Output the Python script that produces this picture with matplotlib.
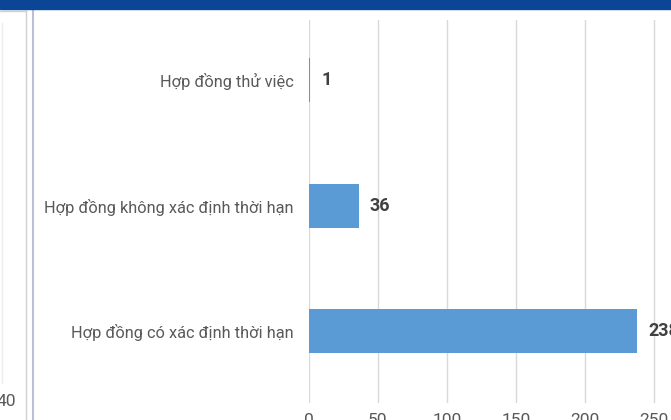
import matplotlib
matplotlib.use('Agg')
import matplotlib.pyplot as plt
import matplotlib.patches as mpatches
from matplotlib.lines import Line2D

plt.rcParams['font.family'] = ['Roboto', 'DejaVu Sans']

# ── Dữ liệu ───────────────────────────────────
categories = ['Hợp đồng có xác định thời hạn',
              'Hợp đồng không xác định thời hạn',
              'Hợp đồng thử việc']
values = [238, 36, 1]
xticks = [0, 50, 100, 150, 200, 250, 300]

W, H = 671, 420
fig = plt.figure(figsize=(W / 100, H / 100), dpi=100)
fig.patch.set_facecolor('white')

# khung ảnh chụp: thanh xanh phía trên, panel bên trái
fig.add_artist(mpatches.Rectangle((0, 1 - 9 / H), 1, 9 / H, transform=fig.transFigure,
                                  color='#0b4596', zorder=5))
fig.add_artist(Line2D([0, 25.5 / W], [1 - 10.5 / H] * 2, transform=fig.transFigure,
                      color='#d0d0d0', lw=1))
fig.add_artist(Line2D([25.5 / W] * 2, [0, 1 - 10.5 / H], transform=fig.transFigure,
                      color='#d0d0d0', lw=1))
fig.add_artist(Line2D([32.5 / W] * 2, [0, 1 - 9 / H], transform=fig.transFigure,
                      color='#b8c2d4', lw=1.5))
fig.add_artist(Line2D([1.5 / W] * 2, [1 - 383 / H, 1 - 23 / H], transform=fig.transFigure,
                      color='#eeeeee', lw=1))
fig.text(-0.005, 1 - 401 / H, '40', fontsize=12.5, color='#595959', va='center', ha='left')

# ── Biểu đồ ───────────────────────────────────
px = 68.9 / 50
left = 309 / W
width = 300 * px / W
bottom = 1 - 403 / H
top = 1 - 20 / H
ax = fig.add_axes([left, bottom, width, top - bottom])

ypos = list(range(len(categories)))
bars = ax.barh(ypos, values, height=0.35, color='#5b9bd5', zorder=3)
for b, v in zip(bars, values):
    ax.text(b.get_width() + 8, b.get_y() + b.get_height() / 2, f'{v}',
            ha='left', va='center', fontsize=13, fontweight='bold', color='#404040')

ax.set_xlim(0, 300)
ax.set_ylim(-0.574, 2.48)
ax.set_xticks(xticks)
ax.set_xticklabels([str(t) for t in xticks])
ax.set_yticks(ypos)
ax.set_yticklabels(categories)
ax.grid(axis='x', color='#d9d9d9', lw=1, zorder=0)
ax.tick_params(axis='x', length=0, labelsize=12.5, labelcolor='#595959', pad=7)
ax.tick_params(axis='y', length=0, labelsize=11.8, labelcolor='#595959', pad=11)
for spine in ax.spines.values():
    spine.set_visible(False)

plt.savefig('out.png', dpi=100)
